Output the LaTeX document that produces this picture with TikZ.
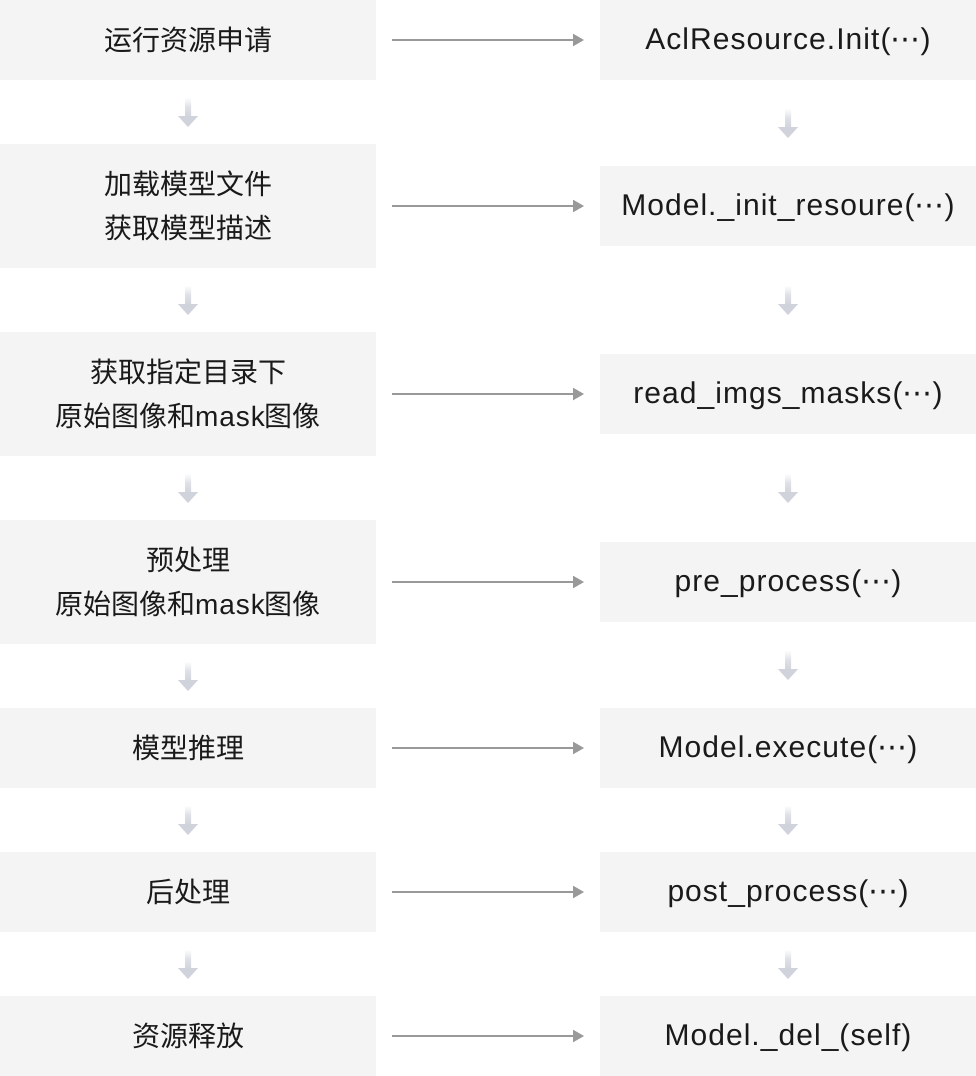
\documentclass[tikz,border=0pt]{standalone}
\usepackage{fontspec}
\setmainfont{Liberation Sans}[LetterSpace=3.5]
\newfontfamily\cjk{Noto Sans CJK SC}
\newfontfamily\dvfont{DejaVu Sans}
\usetikzlibrary{arrows.meta,calc}
\definecolor{boxbg}{HTML}{F4F4F4}
\definecolor{harr}{HTML}{999999}
\definecolor{darr}{HTML}{D0D3DB}
\definecolor{txt}{HTML}{1A1A1A}
\newcommand{\cdts}{{\dvfont ⋯}}
\begin{document}
\begin{tikzpicture}[x=1pt,y=-1pt,
  box/.style={fill=boxbg, inner sep=0pt, outer sep=0pt, minimum width=376pt, anchor=north west, align=center, text=txt},
  lbox/.style={box, font=\cjk\fontsize{28}{44}\selectfont},
  rbox/.style={box, minimum height=80pt, text height=22pt, text depth=4pt, font=\fontsize{30}{44}\selectfont},
  harrow/.style={draw=harr, line width=2pt, -{Triangle[length=11pt,width=12pt]}, shorten <=16pt, shorten >=16pt},
  darrow/.pic={
    \shade[top color=white, bottom color=darr, middle color=darr!70!white] (-3,-15) rectangle (3,5);
    \fill[darr] (-10,4) -- (10,4) -- (0,15) -- cycle;
  }]
\useasboundingbox (0,0) rectangle (976,1076);

\node[lbox, minimum height=80pt]  (L1) at (0,0)   {运行资源申请};
\node[lbox, minimum height=124pt] (L2) at (0,144) {加载模型文件\\获取模型描述};
\node[lbox, minimum height=124pt] (L3) at (0,332) {获取指定目录下\\原始图像和{\rmfamily mask}图像};
\node[lbox, minimum height=124pt] (L4) at (0,520) {预处理\\原始图像和{\rmfamily mask}图像};
\node[lbox, minimum height=80pt]  (L5) at (0,708) {模型推理};
\node[lbox, minimum height=80pt]  (L6) at (0,852) {后处理};
\node[lbox, minimum height=80pt]  (L7) at (0,996) {资源释放};

\node[rbox] (R1) at (600,0)   {AclResource.Init(\cdts)};
\node[rbox] (R2) at (600,166) {Model.\_init\_resoure(\cdts)};
\node[rbox] (R3) at (600,354) {read\_imgs\_masks(\cdts)};
\node[rbox] (R4) at (600,542) {pre\_process(\cdts)};
\node[rbox] (R5) at (600,708) {Model.execute(\cdts)};
\node[rbox] (R6) at (600,852) {post\_process(\cdts)};
\node[rbox] (R7) at (600,996) {Model.\_del\_(self)};

\foreach \i in {1,...,7} { \draw[harrow] (L\i) -- (R\i); }

\foreach \a/\b in {1/2,2/3,3/4,4/5,5/6,6/7} {
  \path (L\a.south) -- (L\b.north) coordinate[midway] (ml\a);
  \pic at (ml\a) {darrow};
  \path (R\a.south) -- (R\b.north) coordinate[midway] (mr\a);
  \pic at (mr\a) {darrow};
}
\end{tikzpicture}
\end{document}
